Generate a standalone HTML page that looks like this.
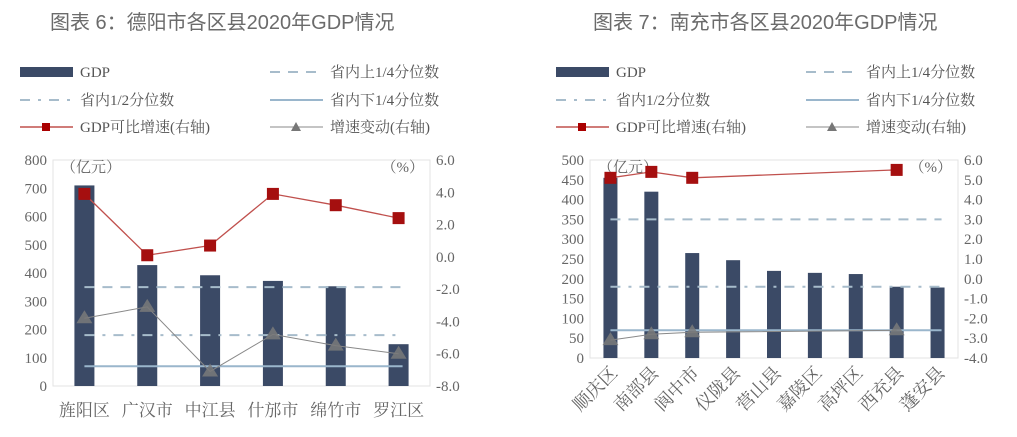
<!DOCTYPE html>
<html><head><meta charset="utf-8"><style>
body{margin:0;background:#fff;}
svg{display:block;font-family:"Liberation Serif","Noto Serif CJK SC",serif;}
.t{font-family:"Liberation Sans","Noto Sans CJK SC",sans-serif;font-size:20px;fill:#6b6b6b;}
.lg{font-size:15px;fill:#555;}
.tk{font-size:15px;fill:#666;}
</style></head><body>
<svg id="s" width="1017" height="437" viewBox="0 0 1017 437">
<text class="t" x="50" y="29">图表 6：德阳市各区县2020年GDP情况</text>
<text class="t" x="593" y="29">图表 7：南充市各区县2020年GDP情况</text>
</svg>
<script>
// Left chart data (Deyang)
const catsL=["旌阳区","广汉市","中江县","什邡市","绵竹市","罗江区"];
const gdpL=[710,428,392,372,353,148];
const growthL=[3.9,0.1,0.7,3.9,3.2,2.4];
const changeL=[-3.8,-3.1,-7.1,-4.8,-5.5,-6.0];
const refL=[350,180,70];
const leftTicksL=[0,100,200,300,400,500,600,700,800];
const rightTicksL=["-8.0","-6.0","-4.0","-2.0","0.0","2.0","4.0","6.0"];
// Right chart data (Nanchong)
const catsR=["顺庆区","南部县","阆中市","仪陇县","营山县","嘉陵区","高坪区","西充县","蓬安县"];
const gdpR=[455,420,265,247,220,215,212,180,178];
const growthR=[5.1,5.4,5.1,null,null,null,null,5.5,null];
const changeR=[-3.1,-2.8,-2.7,null,null,null,null,-2.6,null];
const refR=[350,180,70];
const leftTicksR=[0,50,100,150,200,250,300,350,400,450,500];
const rightTicksR=["-4.0","-3.0","-2.0","-1.0","0.0","1.0","2.0","3.0","4.0","5.0","6.0"];

const svg=document.getElementById('s');
const NS="http://www.w3.org/2000/svg";
function mk(tag,attrs,parent){const e=document.createElementNS(NS,tag);for(const k in attrs)e.setAttribute(k,attrs[k]);(parent||svg).appendChild(e);return e;}

function legend(ox){
  const g=mk('g',{});
  
  
  const rows=[72,100,127];
  let e=mk('rect',{x:ox,y:rows[0]-5,width:53,height:10,fill:'#3b4a66'},g);
  e=mk('text',{x:ox+60,y:rows[0]+5,class:'lg'},g);e.textContent='GDP';
  mk('line',{x1:ox,x2:ox+53,y1:rows[1],y2:rows[1],stroke:'#a7bccb','stroke-width':2,'stroke-dasharray':'10 8 3 8'},g);
  e=mk('text',{x:ox+60,y:rows[1]+5,class:'lg'},g);e.textContent='省内1/2分位数';
  mk('line',{x1:ox,x2:ox+53,y1:rows[2],y2:rows[2],stroke:'#c0504d','stroke-width':1.5},g);
  mk('rect',{x:ox+22,y:rows[2]-4,width:8,height:8,fill:'#a00'},g);
  e=mk('text',{x:ox+60,y:rows[2]+5,class:'lg'},g);e.textContent='GDP可比增速(右轴)';
  const c2=ox+250;
  mk('line',{x1:c2,x2:c2+53,y1:rows[0],y2:rows[0],stroke:'#a7bccb','stroke-width':2,'stroke-dasharray':'10 8'},g);
  e=mk('text',{x:c2+60,y:rows[0]+5,class:'lg'},g);e.textContent='省内上1/4分位数';
  mk('line',{x1:c2,x2:c2+53,y1:rows[1],y2:rows[1],stroke:'#9ab6cc','stroke-width':2},g);
  e=mk('text',{x:c2+60,y:rows[1]+5,class:'lg'},g);e.textContent='省内下1/4分位数';
  mk('line',{x1:c2,x2:c2+53,y1:rows[2],y2:rows[2],stroke:'#888','stroke-width':1},g);
  mk('path',{d:`M${c2+26},${rows[2]-5}l5,9h-10z`,fill:'#777'},g);
  e=mk('text',{x:c2+60,y:rows[2]+5,class:'lg'},g);e.textContent='增速变动(右轴)';
}

function chart(o){
  const {x0,x1,y0,y1,lmax,rmin,rmax,cats,gdp,growth,change,ref,lt,rt,bw,rot,name}=o;
  const yL=v=>y1-(v/lmax)*(y1-y0);
  const yR=v=>y1-(v-rmin)/(rmax-rmin)*(y1-y0);
  const cw=(x1-x0)/cats.length;
  const xc=i=>x0+cw*(i+0.5);
  const g=mk('g',{});
  
  
  mk('rect',{x:x0,y:y0,width:x1-x0,height:y1-y0,fill:'none',stroke:'#e3e3e3'},g);
  lt.forEach(v=>{const t=mk('text',{x:x0-6,y:yL(v)+5,'text-anchor':'end',class:'tk'},g);t.textContent=v;
    });
  rt.forEach(v=>{const t=mk('text',{x:x1+6,y:yR(parseFloat(v))+5,class:'tk'},g);t.textContent=v;
    });
  let t=mk('text',{x:x0+8,y:y0+12,class:'tk'},g);t.textContent='（亿元）';
  
  t=mk('text',{x:x1-6,y:y0+12,'text-anchor':'end',class:'tk'},g);t.textContent='（%）';
  
  gdp.forEach((v,i)=>{const r=mk('rect',{x:xc(i)-bw/2,y:yL(v),width:bw,height:yL(0)-yL(v),fill:'#3b4a66'},g);
    });
  const rx0=xc(0),rx1=xc(cats.length-1)+4;
  const dashes=['10 8','10 8 3 8',null];
  const cols=['#a7bccb','#a7bccb','#9ab6cc'];
  ref.forEach((v,k)=>{const a={x1:rx0,x2:rx1,y1:yL(v),y2:yL(v),stroke:cols[k],'stroke-width':2};
    if(dashes[k])a['stroke-dasharray']=dashes[k];const l=mk('line',a,g);
    });
  function series(arr,color,w,marker){
    const pts=[];arr.forEach((v,i)=>{if(v!==null)pts.push([xc(i),yR(v)]);});
    const p=mk('polyline',{points:pts.map(p=>p.join(',')).join(' '),fill:'none',stroke:color,'stroke-width':w},g);
    
    pts.forEach(([x,y])=>{let m;
      if(marker==='sq')m=mk('rect',{x:x-6,y:y-6,width:12,height:12,fill:'#a50f0f'},g);
      else m=mk('path',{d:`M${x},${y-8}l8,13h-16z`,fill:'#7a7a7a','fill-opacity':0.85},g);
      });
  }
  series(change,'#888',1,'tri');
  series(growth,'#c0504d',1.3,'sq');
  cats.forEach((c,i)=>{let tx;
    if(rot){tx=mk('text',{x:xc(i)+8,y:y1+16,'text-anchor':'end',class:'tk',transform:`rotate(-45 ${xc(i)+8} ${y1+16})`,style:'font-size:18px'},g);}
    else tx=mk('text',{x:xc(i),y:y1+30,'text-anchor':'middle',class:'tk',style:'font-size:17px'},g);
    tx.textContent=c;});
}
legend(20);legend(556);
chart({x0:53,x1:430,y0:160,y1:386,lmax:800,rmin:-8,rmax:6,cats:catsL,gdp:gdpL,growth:growthL,change:changeL,ref:refL,lt:leftTicksL,rt:rightTicksL,bw:20,rot:false,name:'deyang-chart'});
chart({x0:590,x1:958,y0:160,y1:358,lmax:500,rmin:-4,rmax:6,cats:catsR,gdp:gdpR,growth:growthR,change:changeR,ref:refR,lt:leftTicksR,rt:rightTicksR,bw:14,rot:true,name:'nanchong-chart'});
</script>
</body></html>
